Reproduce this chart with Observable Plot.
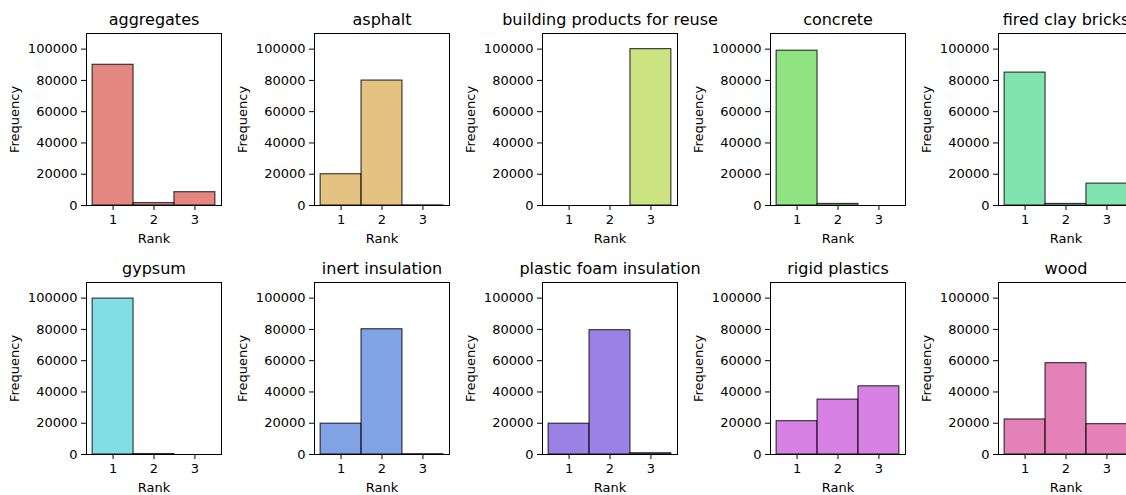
<!DOCTYPE html>
<html>
<head>
<meta charset="utf-8">
<script src="https://cdn.jsdelivr.net/npm/d3@7"></script>
<script src="https://cdn.jsdelivr.net/npm/@observablehq/plot@0.6"></script>
<style>
  html, body { margin: 0; padding: 0; background: white; }
  body { width: 1126px; height: 495px; overflow: hidden; position: relative; font-family: "DejaVu Sans", sans-serif; }
  .panel { position: absolute; }
</style>
</head>
<body>
<div id="chart"></div>
<script>
const materials = ["aggregates", "asphalt", "building products for reuse", "concrete", "fired clay bricks",
                   "gypsum", "inert insulation", "plastic foam insulation", "rigid plastics", "wood"];
const colors = ["#db5f57", "#dbae57", "#b9db57", "#69db57", "#57db94",
                "#57d3db", "#5784db", "#7957db", "#c957db", "#db579e"];
const ranks = [1, 2, 3];
const rank1Counts = [90000, 20000, 0, 99000, 85000, 99700, 19700, 19700, 21300, 22400];
const rank2Counts = [1500, 79900, 0, 1000, 1000, 300, 80100, 79500, 35100, 58400];
const rank3Counts = [8500, 100, 100000, 0, 14000, 0, 200, 800, 43600, 19400];
const yTicks = [0, 20000, 40000, 60000, 80000, 100000];
const xLabel = "Rank";
const yLabel = "Frequency";

const chart = document.getElementById("chart");
const counts = [rank1Counts, rank2Counts, rank3Counts];

materials.forEach((name, i) => {
  const col = i % 5, row = Math.floor(i / 5);
  const data = ranks.map((r, k) => ({rank: r, count: counts[k][i]}));
  const plot = Plot.plot({
    width: 231,
    height: 245,
    marginLeft: 86,
    marginRight: 10,
    marginTop: 33,
    marginBottom: 40,
    style: {fontFamily: "DejaVu Sans", fontSize: "13px", color: "black", background: "transparent", overflow: "visible"},
    x: {domain: [0.35, 3.65]},
    y: {domain: [0, 110000]},
    marks: [
      Plot.rectY(data, {x1: d => d.rank - 0.5, x2: d => d.rank + 0.5, y1: 0, y2: "count",
        fill: colors[i], fillOpacity: 0.75, stroke: "black", strokeOpacity: 0.8, strokeWidth: 1.1}),
      Plot.frame({stroke: "black", strokeWidth: 1}),
      Plot.axisY({ticks: yTicks, tickFormat: d => String(d), tickSize: 5, tickPadding: 4, label: null, fontSize: 13}),
      Plot.axisX({ticks: ranks, tickFormat: d => String(d), tickSize: 5, tickPadding: 4, label: null, fontSize: 13}),
      Plot.text([name], {frameAnchor: "top", dy: -14, lineAnchor: "middle", textAnchor: "middle", fontSize: 16}),
      Plot.text([yLabel], {frameAnchor: "left", rotate: -90, dx: -72, lineAnchor: "middle", textAnchor: "middle", fontSize: 13}),
      Plot.text([xLabel], {frameAnchor: "bottom", dy: 33, lineAnchor: "middle", textAnchor: "middle", fontSize: 13})
    ]
  });
  plot.classList.add("panel");
  plot.style.left = (col * 228) + "px";
  plot.style.top = (row * 249) + "px";
  chart.appendChild(plot);
});
</script>
</body>
</html>
